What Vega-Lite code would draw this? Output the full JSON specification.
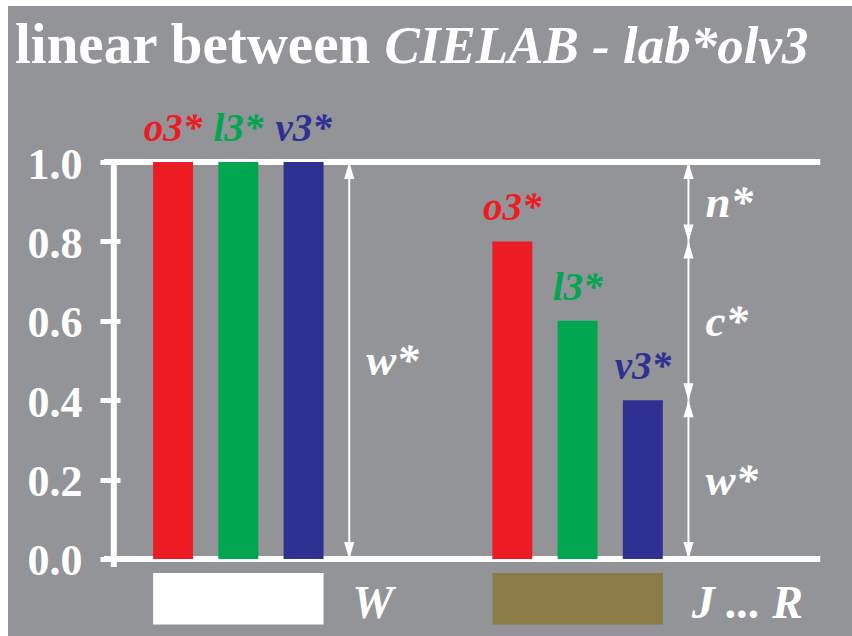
{
  "$schema": "https://vega.github.io/schema/vega-lite/v6.json",
  "width": 844,
  "height": 630,
  "autosize": {"type": "none"},
  "padding": {"left": 8, "top": 6, "right": 0, "bottom": 0},
  "background": "#ffffff",
  "config": {
    "view": {"stroke": null, "fill": "#939498"},
    "axisX": {"disable": true},
    "axisY": {
      "domain": false,
      "grid": false,
      "offset": -112,
      "tickSize": 20,
      "tickWidth": 5,
      "tickColor": "#ffffff",
      "labelColor": "#ffffff",
      "labelFont": "Liberation Serif",
      "labelFontWeight": "bold",
      "labelFontSize": 44,
      "labelPadding": 18,
      "labelOffset": 3,
      "labelFlush": false,
      "labelOverlap": false,
      "labelBaseline": "middle"
    },
    "text": {"font": "Liberation Serif", "fontWeight": "bold"}
  },
  "datasets": {
    "bars": [
      {"group": "W", "pos": 1, "value": 1.0, "name": "o3*"},
      {"group": "W", "pos": 2, "value": 1.0, "name": "l3*"},
      {"group": "W", "pos": 3, "value": 1.0, "name": "v3*"},
      {"group": "J ... R", "pos": 6.2, "value": 0.8, "name": "o3*"},
      {"group": "J ... R", "pos": 7.2, "value": 0.6, "name": "l3*"},
      {"group": "J ... R", "pos": 8.2, "value": 0.4, "name": "v3*"}
    ],
    "arrows": [
      {"pos": 3.7, "lo": 0, "hi": 1, "mid": 0.5, "label": "w*"},
      {"pos": 8.9, "lo": 0.8, "hi": 1, "mid": 0.9, "label": "n*"},
      {"pos": 8.9, "lo": 0.4, "hi": 0.8, "mid": 0.6, "label": "c*"},
      {"pos": 8.9, "lo": 0, "hi": 0.4, "mid": 0.2, "label": "w*"}
    ],
    "frame": [{"v": 0}, {"v": 1}]
  },
  "layer": [
    {
      "data": {"name": "frame"},
      "mark": {"type": "rule", "color": "#ffffff", "strokeWidth": 6},
      "encoding": {
        "x": {"datum": -0.06},
        "x2": {"datum": 10.92},
        "y": {"field": "v", "type": "quantitative", "title": null}
      }
    },
    {
      "data": {"values": [{"axis": "y"}]},
      "mark": {"type": "rule", "color": "#ffffff", "strokeWidth": 6},
      "encoding": {
        "x": {"datum": 0.091},
        "y": {"datum": 1.0, "title": null},
        "y2": {"datum": -0.02}
      }
    },
    {
      "data": {"name": "bars"},
      "mark": {"type": "bar", "size": 40},
      "encoding": {
        "x": {"field": "pos", "type": "quantitative", "scale": {"domain": [-1.454, 11.33], "nice": false, "zero": false}},
        "y": {"field": "value", "type": "quantitative", "title": null,
              "scale": {"domain": [-0.194, 1.393], "nice": false, "zero": false},
              "axis": {"values": [0, 0.2, 0.4, 0.6, 0.8, 1.0], "format": ".1f"}},
        "y2": {"datum": 0},
        "color": {"field": "name", "type": "nominal", "legend": null,
                  "scale": {"domain": ["o3*", "l3*", "v3*", "W", "J ... R"],
                            "range": ["#ed1c24", "#00a650", "#2e3192", "#ffffff", "#8a7b47"]}}
      }
    },
    {
      "data": {"name": "bars"},
      "mark": {"type": "text", "fontStyle": "italic", "fontSize": 39, "baseline": "alphabetic", "dy": -21},
      "encoding": {
        "x": {"field": "pos", "type": "quantitative"},
        "y": {"field": "value", "type": "quantitative", "title": null},
        "text": {"field": "name"},
        "color": {"field": "name", "type": "nominal", "legend": null}
      }
    },
    {
      "data": {"name": "arrows"},
      "mark": {"type": "rule", "color": "#ffffff", "strokeWidth": 2},
      "encoding": {
        "x": {"field": "pos", "type": "quantitative"},
        "y": {"field": "lo", "type": "quantitative", "title": null},
        "y2": {"field": "hi"}
      }
    },
    {
      "data": {"name": "arrows"},
      "mark": {"type": "point", "shape": "M0,0L0.6,2L-0.6,2Z", "size": 289, "filled": true, "color": "#ffffff", "opacity": 1},
      "encoding": {
        "x": {"field": "pos", "type": "quantitative"},
        "y": {"field": "hi", "type": "quantitative", "title": null}
      }
    },
    {
      "data": {"name": "arrows"},
      "mark": {"type": "point", "shape": "M0,0L0.6,-2L-0.6,-2Z", "size": 289, "filled": true, "color": "#ffffff", "opacity": 1},
      "encoding": {
        "x": {"field": "pos", "type": "quantitative"},
        "y": {"field": "lo", "type": "quantitative", "title": null}
      }
    },
    {
      "data": {"name": "arrows"},
      "mark": {"type": "text", "fontStyle": "italic", "fontSize": 45, "color": "#ffffff", "align": "left", "baseline": "alphabetic", "dx": 17, "dy": 15},
      "encoding": {
        "x": {"field": "pos", "type": "quantitative"},
        "y": {"field": "mid", "type": "quantitative", "title": null},
        "text": {"field": "label"}
      }
    },
    {
      "data": {"name": "bars"},
      "transform": [
        {"aggregate": [{"op": "min", "field": "pos", "as": "p0"}, {"op": "max", "field": "pos", "as": "p1"}], "groupby": ["group"]}
      ],
      "layer": [
        {
          "mark": {"type": "rect", "xOffset": -20, "x2Offset": 20},
          "encoding": {
            "x": {"field": "p0", "type": "quantitative"},
            "x2": {"field": "p1"},
            "y": {"datum": -0.035, "title": null},
            "y2": {"datum": -0.165},
            "color": {"field": "group", "type": "nominal", "legend": null}
          }
        },
        {
          "mark": {"type": "text", "fontStyle": "italic", "fontSize": 46, "color": "#ffffff", "align": "left", "baseline": "alphabetic", "dx": 49, "dy": 19},
          "encoding": {
            "x": {"field": "p1", "type": "quantitative"},
            "y": {"datum": -0.1, "title": null},
            "text": {"field": "group"}
          }
        }
      ]
    },
    {
      "data": {"values": [{"text": "linear between"}]},
      "mark": {"type": "text", "fontSize": 57, "color": "#ffffff", "align": "left", "baseline": "alphabetic"},
      "encoding": {
        "x": {"datum": -1.4235},
        "y": {"datum": 1.2494, "title": null},
        "text": {"field": "text"}
      }
    },
    {
      "data": {"values": [{"text": "CIELAB - lab*olv3"}]},
      "mark": {"type": "text", "fontSize": 53, "fontStyle": "italic", "color": "#ffffff", "align": "right", "baseline": "alphabetic"},
      "encoding": {
        "x": {"datum": 10.739},
        "y": {"datum": 1.2494, "title": null},
        "text": {"field": "text"}
      }
    }
  ]
}
